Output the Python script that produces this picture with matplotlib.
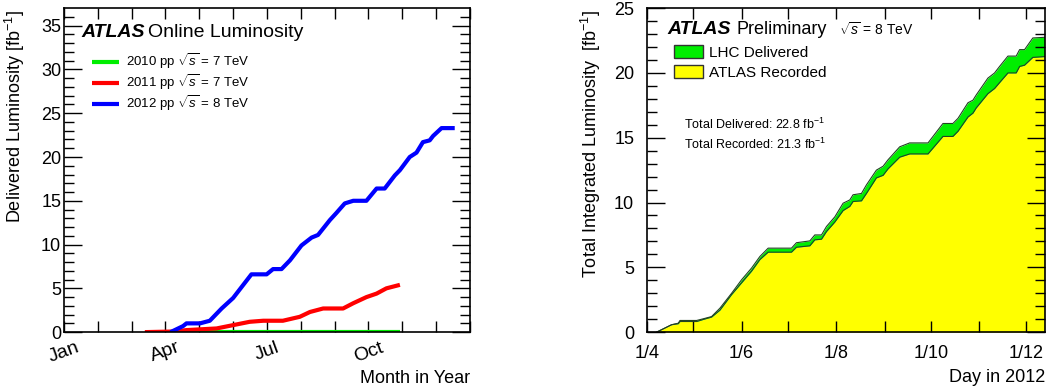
import matplotlib
matplotlib.use("Agg")
import matplotlib.pyplot as plt
from matplotlib.patches import Patch

plt.rcParams['font.family'] = ['Liberation Sans', 'DejaVu Sans']
plt.rcParams['mathtext.fontset'] = 'custom'
plt.rcParams['mathtext.rm'] = 'Liberation Sans'
plt.rcParams['mathtext.it'] = 'Liberation Sans:italic'

# left panel: delivered luminosity per year, x in months since 1 Jan
m2012 = [3.15, 3.52, 3.62, 4.02, 4.31, 4.66, 5.0, 5.30, 5.54, 5.99, 6.18, 6.43, 6.68, 7.02,
         7.32, 7.51, 7.86, 8.05, 8.30, 8.55, 8.94, 9.09, 9.24, 9.48, 9.78, 9.93, 10.22,
         10.42, 10.61, 10.81, 10.91, 11.16, 11.55]
l2012 = [0.0, 0.69, 1.0, 1.0, 1.3, 2.7, 3.9, 5.4, 6.6, 6.6, 7.2, 7.2, 8.2, 9.9,
         10.8, 11.1, 12.8, 13.6, 14.7, 15.0, 15.0, 15.7, 16.4, 16.4, 17.9, 18.5, 20.0,
         20.5, 21.7, 21.9, 22.4, 23.3, 23.3]
m2011 = [2.39, 3.23, 3.62, 4.51, 5.0, 5.49, 5.89, 6.47, 6.97, 7.27, 7.66, 8.25, 8.55,
         8.94, 9.24, 9.53, 9.93]
l2011 = [0.0, 0.07, 0.23, 0.42, 0.8, 1.18, 1.3, 1.3, 1.75, 2.3, 2.7, 2.7, 3.3,
         4.0, 4.4, 5.0, 5.4]
m2010 = [3.23, 9.93]
l2010 = [0.05, 0.05]
month_labels = ['Jan', '', '', 'Apr', '', '', 'Jul', '', '', 'Oct', '', '', '']

# right panel: 2012 cumulative, x in days since 1 Apr
days = [6.4, 16, 20.3, 21.4, 32.1, 36.4, 41.7, 47.1, 54.6, 61, 67.4, 72.8, 78.1, 93.1,
        96.3, 104.9, 108.1, 112.4, 115.6, 121, 126.3, 130.6, 132.7, 138.1, 141.3, 147.7,
        152, 155.2, 162.7, 169.1, 180.9, 184.1, 190.5, 196.9, 200.2, 206.6, 209.8, 211.9,
        219.4, 223.7, 226.9, 232.3, 237.6, 239.8, 243, 248.3, 255.8]
delivered = [0, 0.57, 0.69, 0.9, 0.9, 1.03, 1.2, 1.85, 3.0, 4.04, 4.94, 5.84, 6.48, 6.48,
             6.9, 7.04, 7.5, 7.5, 8.15, 8.9, 9.95, 10.2, 10.6, 10.7, 11.36, 12.5,
             12.8, 13.3, 14.3, 14.6, 14.6, 15.1, 16.1, 16.1, 16.5, 17.7, 17.9, 18.3,
             19.6, 20.0, 20.5, 21.3, 21.3, 21.8, 21.8, 22.7, 22.75]
recorded = [0, 0.57, 0.65, 0.82, 0.82, 0.98, 1.16, 1.7, 2.9, 3.8, 4.7, 5.6, 6.17, 6.17,
            6.55, 6.66, 7.12, 7.17, 7.76, 8.5, 9.38, 9.7, 10.08, 10.13, 10.7, 11.9,
            12.1, 12.6, 13.5, 13.75, 13.75, 14.2, 15.1, 15.1, 15.5, 16.6, 16.9, 17.3,
            18.4, 18.8, 19.25, 20.0, 20.0, 20.5, 20.6, 21.2, 21.26]
day_ticks = [0, 30, 61, 91, 122, 153, 183, 214, 244]
day_labels = ['1/4', '', '1/6', '', '1/8', '', '1/10', '', '1/12']

fig = plt.figure(figsize=(10.49, 3.88), dpi=100)
ax1 = fig.add_axes([0.061, 0.144, 0.387, 0.835])
ax2 = fig.add_axes([0.6165, 0.144, 0.3795, 0.835])

for ax in (ax1, ax2):
    ax.tick_params(which='both', direction='in', top=True, right=True, labelsize=13)
    ax.tick_params(which='major', axis='y', length=13, width=1)
    ax.tick_params(which='minor', axis='y', length=7, width=1)
    ax.tick_params(which='major', axis='x', length=8, width=1)
    for s in ax.spines.values():
        s.set_linewidth(1.2)

# left
ax1.plot(m2010, l2010, color='#00ee00', lw=3, solid_capstyle='butt', label='2010 pp $\\sqrt{s}$ = 7 TeV')
ax1.plot(m2011, l2011, color='#ff0000', lw=3, solid_capstyle='butt', label='2011 pp $\\sqrt{s}$ = 7 TeV')
ax1.plot(m2012, l2012, color='#0000ff', lw=3, solid_capstyle='butt', label='2012 pp $\\sqrt{s}$ = 8 TeV')
ax1.set_xlim(0, 12)
ax1.set_ylim(0, 37)
ax1.set_xticks(range(13))
ax1.set_xticklabels(month_labels, rotation=20, fontsize=14)
ax1.set_yticks(range(0, 36, 5))
ax1.set_yticks(range(0, 37), minor=True)
ax1.tick_params(axis='y', pad=2)
ax1.tick_params(axis='x', pad=5)
ax1.set_ylabel('Delivered Luminosity [fb$^{-1}$]', fontsize=13)
ax1.yaxis.set_label_coords(-0.092, 0.665)
ax1.set_xlabel('Month in Year', fontsize=13, loc='right', labelpad=3)
ax1.text(0.044, 0.925, 'ATLAS', transform=ax1.transAxes, fontsize=14, fontweight='bold',
         style='italic', va='center')
ax1.text(0.207, 0.925, 'Online Luminosity', transform=ax1.transAxes, fontsize=14, va='center')
ax1.legend(loc='upper left', bbox_to_anchor=(0.055, 0.883), frameon=False, fontsize=9.5,
           handlelength=2.1, handletextpad=0.5, labelspacing=0.1, borderaxespad=0)

# right
ax2.fill_between(days, 0, recorded, color='#ffff00', lw=0)
ax2.fill_between(days, recorded, delivered, color='#00ee00', lw=0)
ax2.plot(days, delivered, color='#224422', lw=0.8)
ax2.plot(days, recorded, color='#224422', lw=0.8)
ax2.set_xlim(0, 256)
ax2.set_ylim(0, 25)
ax2.set_xticks(day_ticks)
ax2.set_xticklabels(day_labels)
ax2.set_yticks(range(0, 26, 5))
ax2.set_yticks(range(0, 26), minor=True)
ax2.tick_params(axis='y', pad=9)
ax2.tick_params(axis='x', pad=9)
ax2.set_ylabel('Total Integrated Luminosity  [fb$^{-1}$]', fontsize=13)
ax2.yaxis.set_label_coords(-0.11, 0.58)
ax2.set_xlabel('Day in 2012', fontsize=13, loc='right', labelpad=5)
ax2.text(0.051, 0.935, 'ATLAS', transform=ax2.transAxes, fontsize=14, fontweight='bold',
         style='italic', va='center')
ax2.text(0.226, 0.935, 'Preliminary', transform=ax2.transAxes, fontsize=13, va='center')
ax2.text(0.483, 0.935, '$\\sqrt{s}$ = 8 TeV', transform=ax2.transAxes, fontsize=10, va='center')
handles = [Patch(facecolor='#00ee00', edgecolor='#333333', lw=1),
           Patch(facecolor='#ffff00', edgecolor='#333333', lw=1)]
ax2.legend(handles, ['LHC Delivered', 'ATLAS Recorded'], loc='upper left',
           bbox_to_anchor=(0.052, 0.905), frameon=False, fontsize=11,
           handlelength=1.9, handleheight=0.95, handletextpad=0.4, labelspacing=0.35,
           borderaxespad=0)
ax2.text(0.094, 0.642, 'Total Delivered: 22.8 fb$^{-1}$', transform=ax2.transAxes,
         fontsize=9, va='center')
ax2.text(0.094, 0.58, 'Total Recorded: 21.3 fb$^{-1}$', transform=ax2.transAxes,
         fontsize=9, va='center')

fig.savefig('out.png', dpi=100)
